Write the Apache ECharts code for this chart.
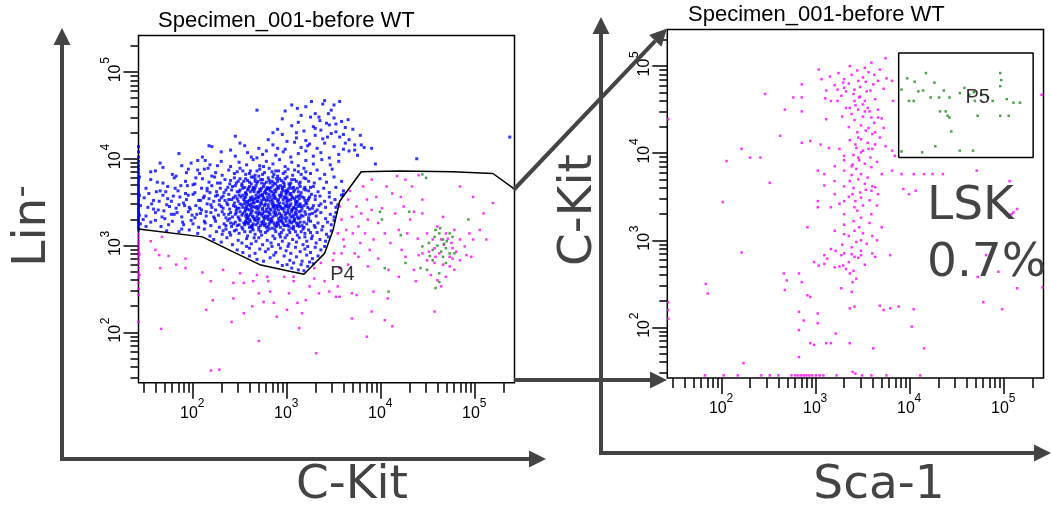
<!DOCTYPE html>
<html>
<head>
<meta charset="utf-8">
<script src="https://cdn.jsdelivr.net/npm/echarts@6/dist/echarts.min.js"></script>
<style>
  html, body { margin: 0; padding: 0; background: #fff; }
  #chart { width: 1051px; height: 505px; }
</style>
</head>
<body>
<div id="chart"></div>
<script>
// ---------------------------------------------------------------------------
// Flow cytometry: Lin- gating (C-Kit vs Lin) and LSK gating (Sca-1 vs C-Kit)
// All event coordinates are log10 fluorescence intensities.
// ---------------------------------------------------------------------------
const AXIS_MIN = 1.42;   // log10 of the lowest displayed intensity
const AXIS_MAX = 5.42;   // log10 of 262144
const decadeTicks = [2, 3, 4, 5];
const minorTickIntensities = [30, 40, 50, 60, 70, 80, 90,
  200, 300, 400, 500, 600, 700, 800, 900,
  2000, 3000, 4000, 5000, 6000, 7000, 8000, 9000,
  20000, 30000, 40000, 50000, 60000, 70000, 80000, 90000, 200000];
const plotTitle = 'Specimen_001-before WT';

// Left plot: [log10 C-Kit, log10 Lin] — events outside P4 (Lin+)
const linPosEvents = [
  [1.42,3.18],[1.42,3.21],[1.42,3.24],[1.42,3.27],[1.42,3.29],[1.42,3.32],[1.42,3.34],[1.42,3.37],[1.42,3.39],[1.42,3.42],[1.42,3.44],[1.42,3.47],[1.42,3.49],[1.42,3.52],[1.42,3.55],[1.42,3.57],[1.42,3.6],[1.42,3.62],[1.42,3.65],[1.42,3.68],[1.42,3.71],[1.42,3.74],[1.42,3.77],[1.42,3.8],[1.42,3.84],[1.42,3.88],[1.42,3.92],[1.42,3.97],[1.42,4.02],[1.42,4.08],[1.42,4.14],[1.43,3.35],[1.43,3.58],[1.44,3.46],[1.43,3.79],[1.44,3.25],
  [3.05,2.74],[3.12,2.72],[3.18,2.71],[3.22,2.76],[3.28,2.79],[3.0,2.78],[2.95,2.77],[3.15,2.78],
  [2.68,2.84],[2.75,2.82],[2.82,2.86],[2.9,2.81],[2.97,2.88],[3.03,2.83],[3.1,2.87],[3.16,2.82],[3.21,2.89],[3.27,2.85],[3.33,2.88],[2.86,2.89],[3.07,2.8],[2.6,2.88],[3.24,2.81],
  [2.47,2.95],[2.53,2.92],[2.6,2.97],[2.66,2.91],[2.71,2.96],[2.77,2.93],[2.84,2.99],[2.88,2.92],[2.93,2.97],[2.99,2.94],[3.04,2.91],[3.09,2.98],[3.14,2.93],[3.19,2.96],[3.25,2.92],[3.3,2.98],[3.36,2.95],[3.4,2.99],[2.8,2.96],[3.01,2.99],[3.22,2.99],[2.57,2.99],
  [2.22,3.07],[2.3,3.04],[2.36,3.09],[2.42,3.01],[2.48,3.06],[2.52,3.03],[2.57,3.08],[2.62,3.02],[2.67,3.05],[2.7,3.09],[2.74,3.01],[2.79,3.06],[2.83,3.03],[2.87,3.08],[2.91,3.01],[2.95,3.05],[2.98,3.09],[3.02,3.02],[3.06,3.07],[3.1,3.04],[3.13,3.09],[3.17,3.01],[3.21,3.05],[3.26,3.08],[3.31,3.03],[3.35,3.07],[3.41,3.05],[3.44,3.1],[2.65,3.09],[2.93,3.1],[3.19,3.1],
  [1.72,3.17],[1.85,3.16],[1.96,3.18],[2.05,3.14],[2.12,3.19],[2.18,3.11],[2.25,3.16],[2.31,3.13],[2.35,3.19],[2.4,3.12],[2.44,3.17],[2.49,3.14],[2.53,3.19],[2.58,3.11],[2.61,3.16],[2.66,3.13],[2.7,3.18],[2.73,3.12],[2.77,3.15],[2.81,3.19],[2.85,3.11],[2.88,3.16],[2.92,3.13],[2.96,3.18],[3.0,3.12],[3.03,3.15],[3.07,3.19],[3.11,3.12],[3.15,3.16],[3.19,3.14],[3.23,3.18],[3.27,3.11],[3.32,3.15],[3.37,3.18],[3.42,3.13],[3.47,3.17],[2.63,3.2],[2.84,3.2],
  [1.55,3.27],[1.66,3.22],[1.78,3.28],[1.9,3.24],[1.98,3.29],[2.06,3.21],[2.13,3.26],[2.19,3.23],[2.24,3.28],[2.28,3.21],[2.33,3.25],[2.37,3.29],[2.41,3.22],[2.45,3.27],[2.49,3.24],[2.52,3.21],[2.56,3.28],[2.59,3.25],[2.62,3.22],[2.66,3.29],[2.69,3.26],[2.72,3.23],[2.75,3.28],[2.78,3.21],[2.81,3.25],[2.84,3.29],[2.87,3.23],[2.9,3.27],[2.93,3.21],[2.96,3.25],[2.99,3.28],[3.02,3.22],[3.05,3.26],[3.08,3.29],[3.11,3.23],[3.14,3.27],[3.18,3.21],[3.21,3.25],[3.25,3.28],[3.29,3.23],[3.33,3.26],[3.38,3.22],[3.43,3.27],[3.47,3.24],[3.5,3.29],[2.55,3.24],[2.74,3.25],[2.91,3.24],[3.07,3.22],
  [1.5,3.34],[1.6,3.38],[1.7,3.31],[1.8,3.36],[1.88,3.33],[1.95,3.39],[2.02,3.32],[2.08,3.37],[2.14,3.34],[2.19,3.38],[2.23,3.31],[2.27,3.35],[2.31,3.39],[2.35,3.32],[2.38,3.36],[2.42,3.33],[2.46,3.38],[2.49,3.31],[2.52,3.35],[2.55,3.39],[2.58,3.32],[2.61,3.36],[2.64,3.33],[2.67,3.38],[2.7,3.31],[2.73,3.35],[2.76,3.39],[2.79,3.32],[2.82,3.36],[2.85,3.33],[2.88,3.38],[2.91,3.31],[2.94,3.35],[2.97,3.39],[3.0,3.32],[3.03,3.36],[3.06,3.33],[3.09,3.38],[3.12,3.31],[3.15,3.35],[3.19,3.39],[3.23,3.32],[3.27,3.37],[3.31,3.34],[3.36,3.38],[3.41,3.31],[3.46,3.36],[3.5,3.33],[3.52,3.38],[2.6,3.3],[2.8,3.3],[2.98,3.35],[3.13,3.39],[2.69,3.36],[2.4,3.38],
  [1.52,3.44],[1.63,3.41],[1.72,3.47],[1.82,3.43],[1.9,3.49],[1.97,3.42],[2.03,3.46],[2.09,3.41],[2.15,3.48],[2.2,3.44],[2.24,3.41],[2.28,3.47],[2.32,3.43],[2.36,3.49],[2.39,3.42],[2.43,3.46],[2.46,3.41],[2.5,3.48],[2.53,3.44],[2.56,3.41],[2.59,3.47],[2.62,3.43],[2.65,3.49],[2.68,3.42],[2.71,3.46],[2.74,3.41],[2.77,3.48],[2.8,3.44],[2.83,3.41],[2.86,3.47],[2.89,3.43],[2.92,3.49],[2.95,3.42],[2.98,3.46],[3.01,3.41],[3.04,3.48],[3.07,3.44],[3.1,3.41],[3.13,3.47],[3.16,3.43],[3.2,3.49],[3.24,3.42],[3.28,3.46],[3.32,3.41],[3.36,3.48],[3.41,3.44],[3.47,3.49],[3.52,3.44],[3.54,3.47],[2.57,3.45],[2.72,3.49],[2.85,3.45],[3.0,3.45],[3.15,3.4],[2.45,3.45],[2.63,3.4],[2.93,3.45],
  [1.48,3.55],[1.58,3.52],[1.68,3.58],[1.77,3.51],[1.86,3.56],[1.93,3.53],[2.0,3.59],[2.06,3.52],[2.12,3.57],[2.17,3.54],[2.22,3.51],[2.26,3.58],[2.3,3.55],[2.34,3.52],[2.38,3.59],[2.41,3.53],[2.45,3.57],[2.48,3.51],[2.51,3.56],[2.54,3.53],[2.57,3.59],[2.6,3.52],[2.63,3.56],[2.66,3.54],[2.69,3.51],[2.72,3.58],[2.75,3.55],[2.78,3.52],[2.81,3.59],[2.84,3.53],[2.87,3.57],[2.9,3.51],[2.93,3.56],[2.96,3.53],[2.99,3.59],[3.02,3.52],[3.05,3.57],[3.08,3.54],[3.11,3.51],[3.14,3.58],[3.18,3.55],[3.22,3.52],[3.26,3.59],[3.3,3.53],[3.35,3.57],[3.4,3.51],[3.45,3.56],[3.51,3.53],[3.58,3.58],[3.6,3.59],[2.7,3.55],[2.85,3.5],[3.0,3.55],[2.55,3.55],[3.13,3.54],
  [1.5,3.66],[1.61,3.62],[1.73,3.68],[1.84,3.63],[1.94,3.69],[2.02,3.61],[2.09,3.66],[2.15,3.63],[2.2,3.69],[2.25,3.62],[2.29,3.66],[2.33,3.61],[2.37,3.67],[2.41,3.64],[2.45,3.69],[2.49,3.62],[2.53,3.66],[2.56,3.61],[2.6,3.68],[2.63,3.64],[2.67,3.69],[2.7,3.62],[2.73,3.66],[2.76,3.61],[2.79,3.67],[2.82,3.63],[2.85,3.69],[2.88,3.62],[2.91,3.66],[2.94,3.61],[2.97,3.68],[3.0,3.64],[3.03,3.69],[3.07,3.62],[3.11,3.66],[3.15,3.61],[3.19,3.67],[3.23,3.63],[3.28,3.68],[3.33,3.62],[3.39,3.66],[3.45,3.61],[3.52,3.67],[3.6,3.63],[2.65,3.65],[2.8,3.65],[2.95,3.65],
  [1.55,3.76],[1.68,3.72],[1.8,3.78],[1.92,3.74],[2.02,3.71],[2.1,3.77],[2.17,3.73],[2.23,3.79],[2.29,3.72],[2.34,3.76],[2.39,3.71],[2.44,3.78],[2.48,3.74],[2.52,3.71],[2.56,3.77],[2.6,3.73],[2.64,3.79],[2.68,3.72],[2.72,3.76],[2.76,3.71],[2.8,3.78],[2.84,3.74],[2.88,3.71],[2.92,3.77],[2.96,3.73],[3.0,3.79],[3.04,3.72],[3.08,3.76],[3.13,3.71],[3.18,3.78],[3.23,3.74],[3.29,3.72],[3.35,3.77],[3.42,3.73],[3.5,3.79],[3.58,3.74],[2.7,3.8],[2.9,3.8],
  [1.6,3.86],[1.78,3.82],[1.95,3.88],[2.07,3.83],[2.16,3.89],[2.24,3.84],[2.31,3.81],[2.38,3.87],[2.44,3.83],[2.5,3.89],[2.56,3.82],[2.61,3.86],[2.66,3.81],[2.71,3.88],[2.76,3.84],[2.81,3.89],[2.86,3.82],[2.91,3.86],[2.96,3.83],[3.01,3.88],[3.06,3.81],[3.12,3.85],[3.18,3.89],[3.25,3.83],[3.32,3.87],[3.4,3.82],[3.48,3.88],[2.53,3.86],[2.84,3.85],[3.15,3.82],
  [1.65,3.95],[1.88,3.92],[2.05,3.98],[2.18,3.93],[2.3,3.97],[2.4,3.91],[2.49,3.96],[2.57,3.93],[2.64,3.99],[2.71,3.92],[2.78,3.97],[2.85,3.94],[2.92,3.99],[2.98,3.91],[3.05,3.96],[3.12,3.92],[3.2,3.98],[3.28,3.94],[3.37,3.99],[3.46,3.93],[3.55,3.97],[2.75,3.91],
  [1.85,4.06],[2.1,4.02],[2.3,4.08],[2.45,4.03],[2.58,4.07],[2.68,4.01],[2.78,4.09],[2.88,4.04],[2.96,4.08],[3.04,4.02],[3.12,4.06],[3.2,4.09],[3.28,4.03],[3.36,4.07],[3.45,4.01],[3.55,4.05],[3.66,4.09],[3.75,4.04],
  [2.2,4.14],[2.5,4.18],[2.7,4.12],[2.85,4.16],[2.98,4.11],[3.08,4.19],[3.15,4.13],[3.24,4.17],[3.32,4.12],[3.4,4.18],[3.5,4.14],[3.6,4.11],[3.72,4.16],[3.82,4.13],
  [2.45,4.26],[2.8,4.22],[2.95,4.28],[3.1,4.24],[3.2,4.21],[3.3,4.27],[3.38,4.23],[3.47,4.29],[3.56,4.25],[3.66,4.22],[3.78,4.27],
  [2.9,4.34],[3.05,4.38],[3.18,4.32],[3.28,4.37],[3.36,4.33],[3.45,4.39],[3.52,4.31],[3.62,4.36],[3.7,4.34],
  [2.95,4.46],[3.12,4.42],[3.25,4.48],[3.35,4.44],[3.42,4.41],[3.5,4.47],[3.58,4.43],
  [2.98,4.55],[3.2,4.6],[3.3,4.52],[3.38,4.63],[3.47,4.56],[3.56,4.66],[3.44,4.52],[3.26,4.66],
  [3.94,3.94],[4.38,4.0],[5.37,4.25],[2.68,4.56],[2.17,4.15],[3.79,4.16],[3.9,4.12],[3.11,4.58],[3.4,4.67],
  [1.47,3.3],[1.53,3.6],[1.58,3.42],[1.64,3.51],[1.67,3.33],[1.71,3.62],[1.75,3.45],[1.79,3.57],[1.83,3.38],[1.87,3.69],[1.91,3.46],[1.95,3.58],[1.99,3.35],[2.03,3.78],[2.07,3.43],[2.11,3.55],[2.14,3.39],[2.18,3.61],[1.74,3.24],[1.88,3.19],[2.0,3.25],[1.62,3.73],[1.93,3.84],[2.12,3.88],
  [2.47,3.23],[2.54,3.26],[2.6,3.21],[2.67,3.24],[2.73,3.27],[2.8,3.22],[2.86,3.26],[2.92,3.28],[2.99,3.23],[3.05,3.2],[3.12,3.25],[3.18,3.27],
  [2.48,3.33],[2.53,3.37],[2.59,3.34],[2.65,3.31],[2.71,3.37],[2.77,3.34],[2.83,3.31],[2.89,3.35],[2.95,3.32],[3.01,3.38],[3.07,3.35],[3.14,3.32],[3.2,3.36],
  [2.47,3.43],[2.52,3.47],[2.58,3.42],[2.64,3.45],[2.7,3.43],[2.76,3.46],[2.82,3.42],[2.88,3.46],[2.94,3.43],[3.0,3.47],[3.06,3.42],[3.12,3.45],[3.18,3.46],[3.22,3.44],
  [2.47,3.54],[2.53,3.58],[2.58,3.51],[2.64,3.53],[2.7,3.57],[2.76,3.53],[2.82,3.56],[2.88,3.54],[2.94,3.58],[3.0,3.52],[3.06,3.55],[3.12,3.57],[3.19,3.52],[3.24,3.56],
  [2.5,3.64],[2.55,3.67],[2.61,3.62],[2.66,3.66],[2.72,3.63],[2.78,3.65],[2.84,3.62],[2.9,3.68],[2.96,3.63],[3.02,3.66],[3.08,3.64],[3.14,3.68],[3.2,3.64],
  [2.54,3.74],[2.62,3.71],[2.69,3.74],[2.78,3.73],[2.86,3.72],[2.94,3.75],[3.02,3.71],[3.1,3.74],
  [2.66,3.3],[2.79,3.39],[2.91,3.41],[3.03,3.29],[2.58,3.49],[2.74,3.59],[2.86,3.6],[2.99,3.61],[3.1,3.49],[2.68,3.51],
  [2.32,3.17],[2.39,3.15],[2.46,3.18],[2.55,3.16],[2.64,3.18],[2.72,3.16],[2.79,3.17],[2.87,3.19],[2.94,3.15],[3.02,3.18],[3.09,3.16],[3.17,3.19],[3.25,3.15],
  [2.35,3.23],[2.43,3.25],[2.5,3.29],[2.58,3.27],[2.64,3.25],[2.7,3.21],[2.77,3.25],[2.83,3.27],[2.89,3.22],[2.97,3.23],[3.03,3.27],[3.1,3.26],[3.16,3.23],[3.23,3.29],[3.3,3.21],[2.4,3.26],[2.61,3.28],[2.94,3.29],
  [2.33,3.36],[2.39,3.31],[2.45,3.36],[2.5,3.39],[2.56,3.34],[2.62,3.38],[2.68,3.33],[2.74,3.37],[2.8,3.34],[2.86,3.38],[2.92,3.37],[2.98,3.31],[3.04,3.33],[3.1,3.36],[3.17,3.34],[3.24,3.36],[3.3,3.39],[2.57,3.31],[2.76,3.31],[3.08,3.31],
  [2.3,3.45],[2.37,3.47],[2.44,3.49],[2.49,3.43],[2.55,3.48],[2.61,3.46],[2.66,3.44],[2.73,3.48],[2.78,3.42],[2.84,3.48],[2.9,3.45],[2.96,3.49],[3.02,3.44],[3.09,3.47],[3.15,3.45],[3.21,3.48],[3.27,3.43],[3.34,3.46],[2.6,3.41],[2.87,3.41],[3.05,3.41],
  [2.32,3.57],[2.38,3.53],[2.43,3.55],[2.49,3.58],[2.55,3.51],[2.61,3.55],[2.67,3.58],[2.73,3.52],[2.79,3.56],[2.85,3.58],[2.91,3.53],[2.97,3.56],[3.03,3.59],[3.09,3.51],[3.16,3.56],[3.23,3.54],[3.3,3.57],[2.64,3.5],[2.82,3.51],[3.0,3.5],
  [2.35,3.64],[2.42,3.68],[2.47,3.62],[2.52,3.69],[2.58,3.64],[2.64,3.67],[2.69,3.61],[2.75,3.68],[2.81,3.66],[2.87,3.64],[2.93,3.69],[2.99,3.63],[3.05,3.66],[3.12,3.62],[3.18,3.65],[3.25,3.67],[2.56,3.6],[2.78,3.6],[3.04,3.6],
  [2.4,3.75],[2.46,3.72],[2.5,3.77],[2.58,3.75],[2.66,3.77],[2.73,3.72],[2.81,3.75],[2.89,3.77],[2.97,3.71],[3.05,3.76],[3.14,3.73],[3.2,3.77],[2.62,3.79],[2.85,3.79],
  [2.47,3.85],[2.6,3.83],[2.68,3.86],[2.74,3.82],[2.88,3.86],[2.98,3.85],[3.08,3.87],[3.2,3.85],
  [2.56,3.26],[2.63,3.23],[2.69,3.29],[2.76,3.23],[2.82,3.28],[2.89,3.25],[2.95,3.27],[3.01,3.24],[3.07,3.28],[3.13,3.22],
  [2.57,3.36],[2.63,3.34],[2.7,3.39],[2.75,3.33],[2.81,3.38],[2.87,3.35],[2.93,3.33],[2.99,3.37],[3.05,3.39],[3.11,3.33],
  [2.56,3.43],[2.62,3.48],[2.68,3.45],[2.74,3.43],[2.8,3.47],[2.86,3.44],[2.91,3.47],[2.97,3.43],[3.03,3.46],[3.09,3.43],[3.14,3.48],
  [2.56,3.56],[2.62,3.53],[2.68,3.55],[2.74,3.57],[2.8,3.53],[2.86,3.55],[2.92,3.58],[2.98,3.55],[3.04,3.53],[3.1,3.56],
  [2.59,3.66],[2.65,3.62],[2.71,3.65],[2.77,3.63],[2.83,3.67],[2.89,3.65],[2.95,3.67],[3.01,3.62],[3.07,3.67],
  [2.66,3.74],[2.74,3.76],[2.82,3.72],[2.9,3.74],[2.98,3.77],
  [1.5,3.22],[1.56,3.48],[1.6,3.29],[1.65,3.63],[1.69,3.4],[1.73,3.54],[1.77,3.36],[1.81,3.66],[1.85,3.47],[1.89,3.27],[1.92,3.6],[1.96,3.44],[2.0,3.7],[2.04,3.36],[2.08,3.52],[2.12,3.28],[2.15,3.66],[2.19,3.47],[2.22,3.33],[2.26,3.72],[2.28,3.52],[2.24,3.57],[2.2,3.8],[2.05,3.87],[1.82,3.8],[1.68,3.9],[1.98,3.95],[2.26,3.92],[2.13,3.98],[1.55,3.85],
  [2.62,4.02],[2.74,4.05],[2.9,4.12],[3.0,4.2],[3.1,4.3],[3.22,4.15],[3.3,4.35],[3.43,4.25],[3.52,4.4],[3.6,4.28],[3.65,4.45],[3.34,4.48],[3.15,4.5],[3.05,4.62],[3.5,4.62],[2.85,4.3],[3.62,4.18],[3.72,4.1],[2.4,4.1],[2.55,4.15]
];

// Left plot: events inside P4 (Lin-), outside P5
const linNegEvents = [
  [1.42,3.13],[1.42,3.09],[1.42,3.05],[1.42,3.01],[1.42,2.97],[1.42,2.93],[1.42,2.88],[1.42,2.84],[1.42,2.79],[1.42,2.74],[1.42,2.69],[1.42,2.63],[1.42,2.57],[1.42,2.5],[1.42,2.43],[1.42,2.12],[1.43,2.9],[1.43,2.66],
  [1.65,2.74],[1.74,2.88],[1.82,2.78],[1.92,2.74],[2.1,2.69],[2.19,2.59],[2.21,2.37],[2.14,2.26],[2.32,2.72],[2.43,2.57],[2.43,2.39],[2.54,2.57],[2.54,2.22],[2.63,2.3],[2.64,2.59],[2.7,2.45],[2.75,2.35],[2.79,2.64],[2.82,2.47],[2.86,2.34],[2.89,2.18],[3.0,2.26],[3.02,2.45],[3.07,2.59],[3.11,2.34],[3.13,2.05],[3.16,2.22],[3.2,2.37],[3.24,2.53],[3.29,2.62],[3.31,1.76],[3.34,2.45],[3.4,2.59],[3.45,2.47],[3.52,2.41],[3.54,2.53],[3.56,2.41],[3.69,2.45],[3.69,2.16],[3.74,2.43],[3.9,2.24],[4.04,2.14],[4.12,2.07],[3.92,2.47],[4.07,2.39],[4.19,2.64],[4.37,2.59],[4.57,2.24],[2.19,1.56],[2.28,1.57],[2.41,2.12],
  [2.5,2.68],[2.68,2.66],[2.8,2.59],[2.97,2.64],[3.07,2.64],[1.67,3.1],[1.64,2.89],[1.92,2.85],[1.55,3.05],[1.6,2.95],
  [3.29,2.74],[3.36,2.8],[3.49,2.83],[3.58,2.91],[3.56,2.74],[3.65,2.78],[3.76,2.87],[3.86,2.76],[3.97,2.85],[4.08,2.72],[4.26,2.87],[4.35,2.72],[4.4,2.89],
  [3.54,3.14],[3.56,3.45],[3.58,3.3],[3.61,2.99],[3.65,3.53],[3.69,3.33],[3.7,3.14],[3.74,3.45],[3.76,3.22],[3.79,3.37],[3.81,3.68],[3.83,3.14],[3.85,3.53],[3.86,3.3],[3.9,3.76],[3.9,3.41],[3.92,3.07],[3.95,3.56],[3.97,3.26],[4.01,3.43],[4.04,3.14],[4.06,3.68],[3.5,2.91],[3.72,2.91],[3.63,3.18],[3.78,3.03],[3.67,3.63],[3.88,2.95],[3.6,3.07],
  [4.21,3.56],[4.33,3.68],[4.4,3.81],[4.19,3.18],[4.28,3.14],[4.39,3.08],[4.15,3.37],[4.24,3.45],[4.31,3.3],[4.12,3.6],[4.26,3.76],[4.44,3.53],[4.1,3.03],[4.22,2.95],[4.35,3.39],[4.17,3.8],
  [4.44,3.37],[4.49,3.14],[4.55,3.07],[4.6,3.22],[4.66,3.33],[4.69,3.14],[4.75,3.03],[4.78,3.18],[4.84,3.07],[4.89,2.99],[4.94,3.14],[4.62,2.91],[4.73,2.87],[4.57,2.97],[4.67,3.01],[4.8,2.93],[4.51,2.93],[4.64,3.07],[4.71,3.08],[4.76,2.97],
  [4.44,2.91],[4.49,2.83],[4.58,2.87],[4.66,2.78],[4.73,2.76],[4.78,2.72],[4.84,2.83],[4.91,2.89],[4.96,2.87],[4.6,2.6],[4.64,2.53],[4.53,2.66],[4.69,2.64],[4.57,2.8],[4.76,2.85],
  [4.98,3.07],[5.05,3.18],[5.12,3.07],[5.09,3.37],[4.84,3.68],[4.98,3.56],[5.19,3.49],
  [1.66,2.04],[2.7,1.9],[3.85,1.95]
];

// Left plot: events inside P5 (shown on the C-Kit / Lin axes)
const lskEventsLeft = [
  [3.99,3.39],[4.01,3.3],[4.3,3.39],[4.44,3.82],[4.48,3.78],[4.93,3.3],[4.58,3.18],[4.62,3.14],[4.66,3.07],[4.69,2.97],[4.73,3.14],[4.51,3.03],[4.55,2.95],[4.44,2.99],[4.78,2.91],[4.04,2.74],[4.08,2.47],[4.26,2.8],[4.42,2.74],[4.58,2.51],[4.62,2.58],[4.66,2.87],[4.69,2.8],[4.73,2.91],[4.55,2.83],[4.49,2.72],[4.62,2.68],[4.6,3.0],[4.67,3.02],[4.64,2.93],[4.57,3.1],[4.7,3.05],[4.52,2.88],[4.76,3.1],[4.63,3.2],[4.21,3.12]
];

// Right plot: [log10 Sca-1, log10 C-Kit] — P4 events outside P5
const scaKitEvents = [
  [3.03,4.96],[2.85,4.79],[2.46,4.68],[2.76,4.64],[2.85,4.64],[3.11,4.72],[3.23,4.6],[3.3,4.75],[3.36,5.0],[3.45,4.83],[3.52,4.98],[3.59,5.04],[3.74,5.09],[3.81,4.83],[2.67,4.5],[2.85,4.48],[3.11,4.39],[3.16,4.6],[3.23,4.73],[3.29,4.81],[3.32,4.71],[3.41,4.73],[3.47,4.65],[3.54,4.71],[3.61,4.79],[3.66,4.83],[3.75,4.86],[3.82,4.6],[3.41,4.6],[3.36,4.52],[3.52,4.48],[3.59,4.41],[3.66,4.41],[3.72,4.29],[3.45,4.18],[3.63,4.24],[3.56,4.29],[2.62,4.2],[2.85,4.12],[2.94,4.14],[3.05,4.1],[3.14,4.06],[3.3,3.97],[3.43,4.06],[3.48,4.01],[3.56,4.05],[3.63,4.1],[3.74,4.08],[3.81,4.03],[3.84,3.97],[2.21,4.05],[2.05,3.91],[2.3,3.95],[2.41,3.95],[2.51,3.66],[2.01,3.44],[3.02,3.8],[3.09,3.76],[3.2,3.68],[3.3,3.8],[3.39,3.87],[3.45,3.95],[3.48,3.76],[3.59,3.84],[3.7,3.76],[3.81,3.8],[3.91,3.76],[4.04,3.76],[4.15,3.76],[4.24,3.76],[4.35,3.76],[4.71,3.8],[3.93,3.59],[3.99,3.53],[4.06,3.57],[3.63,3.61],[3.09,3.63],[3.02,3.45],[3.2,3.53],[3.3,3.45],[3.39,3.53],[3.48,3.49],[3.59,3.57],[3.66,3.53],[5.06,3.68],[5.14,3.36],[5.1,3.32],[5.4,4.67],[1.43,4.39],
  [3.16,3.38],[3.3,3.3],[3.41,3.38],[3.48,3.26],[3.59,3.3],[3.02,3.38],[3.2,3.11],[3.3,3.07],[3.41,3.11],[3.48,3.0],[3.21,2.88],[3.54,2.96],[3.38,2.84],[2.91,3.15],[3.16,2.9],[3.65,3.0],[3.7,3.15],
  [3.24,4.92],[3.3,4.85],[3.38,4.9],[3.44,4.95],[3.5,4.87],[3.56,4.93],[3.62,4.9],[3.68,4.96],[3.35,4.8],[3.47,4.76],[3.53,4.82],[3.4,4.68],[3.58,4.72],[3.46,4.64],[3.27,4.66],[3.63,4.62],[3.52,4.6],[3.2,4.78],[3.72,4.74],[3.15,4.88],[3.06,4.85],[3.1,4.63],[3.42,4.55],[3.55,4.52],
  [3.38,4.45],[3.45,4.5],[3.5,4.42],[3.57,4.48],[3.62,4.35],[3.48,4.32],[3.41,4.38],[3.53,4.26],[3.6,4.22],[3.44,4.24],[3.35,4.3],[3.28,4.42],[3.66,4.5],[3.7,4.4],[3.5,4.56],[3.32,4.52],
  [3.36,4.15],[3.42,4.1],[3.48,4.16],[3.55,4.12],[3.6,4.05],[3.4,3.98],[3.46,3.92],[3.52,3.88],[3.58,3.95],[3.65,3.9],[3.38,3.85],[3.3,3.92],[3.25,4.05],[3.68,4.18],[3.2,3.85],[3.5,4.03],[3.43,3.82],
  [3.38,3.75],[3.45,3.7],[3.52,3.65],[3.4,3.6],[3.47,3.55],[3.55,3.72],[3.6,3.62],[3.35,3.5],[3.42,3.45],[3.5,3.4],[3.57,3.46],[3.3,3.62],[3.25,3.42],[3.65,3.4],[3.44,3.34],[3.36,3.68],[3.53,3.58],
  [3.4,3.22],[3.46,3.15],[3.35,3.05],[3.5,3.08],[3.43,2.98],[3.3,3.18],[3.57,3.2],[3.38,2.92],[3.48,2.88],[3.28,2.95],[3.6,3.05],[3.45,2.8],[3.35,2.75],[3.52,2.72],[3.4,2.65],[3.25,2.7],[3.6,2.85],[3.3,2.85],
  [2.21,2.86],[3.09,2.83],[3.27,2.83],[3.41,2.81],[3.48,2.83],[3.63,2.81],[3.79,2.83],[2.66,2.62],[2.82,2.62],[2.69,2.54],[2.67,2.43],[2.85,2.52],[2.91,2.37],[2.94,2.35],[2.98,2.75],[3.03,2.71],[3.09,2.73],[3.12,2.79],[3.2,2.69],[3.29,2.71],[3.32,2.67],[3.36,2.62],[3.39,2.52],[3.43,2.56],[3.27,2.45],[3.38,2.41],[2.82,2.18],[3.02,2.16],[2.87,2.08],[2.82,1.97],[3.02,2.05],[3.36,2.22],[3.41,2.24],[3.68,2.25],[3.72,2.2],[3.79,2.22],[3.88,2.24],[4.04,2.21],[4.02,2.01],[3.21,1.93],[3.61,1.76],[4.15,1.76],[2.94,1.82],[2.98,1.8],[3.11,1.82],[3.16,1.82],[3.36,1.82],[3.39,1.49],[2.82,1.66],[2.23,1.59],[1.83,2.5],[1.85,2.39],[1.43,2.29],[1.43,2.2],[1.43,2.1],
  [4.78,2.29],[4.98,2.21],[5.14,2.45],[5.41,2.46],[4.72,2.58],[4.94,2.64],[4.81,2.83],[5.32,2.77],[5.08,3.3],
  [1.82,1.45],[2.02,1.45],[2.17,1.45],[2.42,1.45],[2.51,1.45],[2.6,1.45],[2.74,1.45],[2.78,1.45],[2.81,1.45],[2.84,1.45],[2.87,1.45],[2.9,1.45],[2.93,1.45],[2.96,1.45],[3.0,1.45],[3.04,1.45],[3.08,1.45],[3.22,1.45],[3.42,1.47],[3.49,1.45],[3.59,1.45],[3.75,1.45],[4.11,1.45]
];

// Right plot: events inside P5 (LSK)
const lskEventsRight = [
  [3.91,4.73],[3.97,4.86],[4.17,4.92],[4.26,4.81],[4.36,4.72],[4.42,4.64],[4.31,4.64],[4.22,4.64],[4.04,4.6],[3.99,4.6],[4.09,4.71],[4.53,4.69],[4.63,4.67],[4.69,4.6],[4.83,4.64],[4.96,4.92],[5.03,4.62],[5.1,4.58],[5.17,4.58],[4.96,4.77],[4.96,4.43],[5.05,4.43],[4.72,4.43],[4.4,4.43],[4.38,4.48],[4.42,4.41],[4.44,4.25],[4.27,4.08],[4.53,4.03],[4.67,4.03],[4.13,4.01],[3.91,4.02],[4.97,4.84],[4.58,4.75],[4.14,4.72],[4.76,4.68],[4.88,4.6],[4.68,4.7],[4.32,4.48],[4.05,4.82]
];

// Gate outlines
const gateP4 = [[1.42,3.19],[2.10,3.10],[2.46,2.91],[2.71,2.78],[3.04,2.70],[3.18,2.67],[3.40,2.91],[3.49,3.18],[3.56,3.51],[3.79,3.85],[4.19,3.86],[4.76,3.85],[5.19,3.83],[5.41,3.66]];
const gateP5 = [[3.88,3.95],[5.31,3.95],[5.31,5.15],[3.88,5.15],[3.88,3.95]];
const gateLabels = { P4: [3.59, 2.67], P5: [4.72, 4.64] };

// ---------------------------------------------------------------------------
const INK = '#444444';
const TICK_FONT = 'Liberation Sans';
const BIG_FONT = 'DejaVu Sans, Verdana, sans-serif';
const minorTicks = minorTickIntensities.map(v => Math.log10(v));

// Three overlaid axes per side: minor ticks, decade ticks with "10", exponent digits
function axisSet(dim, gridIndex) {
  const isX = dim === 'x';
  const base = {
    gridIndex, type: 'value', min: AXIS_MIN, max: AXIS_MAX,
    position: isX ? 'bottom' : 'left',
    axisLine: { show: false }, splitLine: { show: false }
  };
  const tickLine = { color: '#000', width: 1.5 };
  return [
    Object.assign({}, base, {
      axisTick: { customValues: minorTicks, length: isX ? 10 : 8, lineStyle: tickLine },
      axisLabel: { show: false }
    }),
    Object.assign({}, base, {
      axisTick: { customValues: decadeTicks, length: isX ? 16 : 15, lineStyle: tickLine },
      axisLabel: {
        customValues: decadeTicks, formatter: () => '10',
        fontFamily: TICK_FONT, fontSize: 16, color: '#000',
        margin: isX ? 23 : 15, rotate: isX ? 0 : 90,
        padding: isX ? [0, 8, 0, 0] : [0, 3, 0, 0]
      }
    }),
    Object.assign({}, base, {
      axisTick: { show: false },
      axisLabel: {
        customValues: decadeTicks, formatter: v => String(Math.round(v)),
        fontFamily: TICK_FONT, fontSize: 12, color: '#000',
        margin: isX ? 15 : 27, rotate: isX ? 0 : 90,
        padding: isX ? [0, 0, 0, 16] : [0, 0, 0, 23]
      }
    })
  ];
}

function scatter(data, color, gridIndex, size) {
  return {
    type: 'scatter', data, symbol: 'rect', symbolSize: size,
    xAxisIndex: gridIndex * 3, yAxisIndex: gridIndex * 3,
    itemStyle: { color }, silent: true, clip: false
  };
}
function gateLine(data, gridIndex) {
  return {
    type: 'line', data, symbol: 'none', silent: true, z: 5,
    xAxisIndex: gridIndex * 3, yAxisIndex: gridIndex * 3,
    lineStyle: { color: '#000', width: 1.5 }
  };
}
function gateLabel(name, gridIndex) {
  return {
    type: 'scatter', data: [gateLabels[name]], symbolSize: 1, silent: true, z: 6,
    xAxisIndex: gridIndex * 3, yAxisIndex: gridIndex * 3,
    itemStyle: { color: 'rgba(0,0,0,0)' },
    label: { show: true, position: 'inside', formatter: name, color: '#000',
             fontFamily: TICK_FONT, fontSize: 20 }
  };
}

function arrow(x1, y1, x2, y2) {
  const dx = x2 - x1, dy = y2 - y1, len = Math.hypot(dx, dy);
  const ux = dx / len, uy = dy / len, L = 17, W = 8.5;
  const bx = x2 - ux * L, by = y2 - uy * L;
  return [
    { type: 'line', z: 50, shape: { x1, y1, x2: bx, y2: by }, style: { stroke: INK, lineWidth: 4 } },
    { type: 'polygon', z: 50, shape: { points: [[x2, y2], [bx - uy * W, by + ux * W], [bx + uy * W, by - ux * W]] },
      style: { fill: INK } }
  ];
}
function bigText(text, x, y, align, rotation) {
  return {
    type: 'text', x, y, z: 50, rotation: rotation || 0,
    style: { text, fill: INK, font: '47px ' + BIG_FONT, align: align || 'center', verticalAlign: 'middle' }
  };
}

const titleStyle = { fontFamily: TICK_FONT, fontSize: 22, fontWeight: 'normal', color: '#000' };

const option = {
  animation: false,
  backgroundColor: '#fff',
  title: [
    { text: plotTitle, left: 158, top: 10, padding: 0, textStyle: titleStyle },
    { text: plotTitle, left: 688, top: 4, padding: 0, textStyle: titleStyle }
  ],
  grid: [
    { left: 138.5, top: 35.5, width: 376, height: 347.2, show: true, borderColor: '#000', borderWidth: 1.5 },
    { left: 667.3, top: 29.5, width: 376.2, height: 348.5, show: true, borderColor: '#000', borderWidth: 1.5 }
  ],
  xAxis: [...axisSet('x', 0), ...axisSet('x', 1)],
  yAxis: [...axisSet('y', 0), ...axisSet('y', 1)],
  series: [
    scatter(linPosEvents, '#0000ff', 0, 3),
    scatter(linNegEvents, '#ff00ff', 0, 2.5),
    scatter(lskEventsLeft, '#1e8c1e', 0, 2.5),
    gateLine(gateP4, 0),
    gateLabel('P4', 0),
    scatter(scaKitEvents, '#ff00ff', 1, 2.5),
    scatter(lskEventsRight, '#1e8c1e', 1, 2.5),
    gateLine(gateP5, 1),
    gateLabel('P5', 1)
  ],
  graphic: [
    // frame axes of the two panels
    ...arrow(62, 461, 62, 28),
    ...arrow(60, 459, 546, 459),
    ...arrow(601, 455, 601, 17),
    ...arrow(599, 453, 1051, 453),
    // links from the P4 gate to the second panel
    ...arrow(513.5, 190, 667, 28.5),
    ...arrow(514, 380, 667, 380),
    bigText('C-Kit', 352, 486),
    bigText('Sca-1', 879, 486),
    bigText('C-Kit', 579, 210, 'center', Math.PI / 2),
    {
      type: 'text', x: 31, y: 226, z: 50, rotation: Math.PI / 2,
      style: {
        text: '{a|Lin}{m|-}', align: 'center', verticalAlign: 'middle',
        rich: {
          a: { fill: INK, font: '47px ' + BIG_FONT, verticalAlign: 'bottom', lineHeight: 50 },
          m: { fill: INK, font: '34px ' + BIG_FONT, verticalAlign: 'top', lineHeight: 34 }
        }
      }
    },
    bigText('LSK', 927, 207, 'left'),
    bigText('0.7%', 927, 264, 'left')
  ]
};

const chart = echarts.init(document.getElementById('chart'));
chart.setOption(option);
</script>
</body>
</html>
